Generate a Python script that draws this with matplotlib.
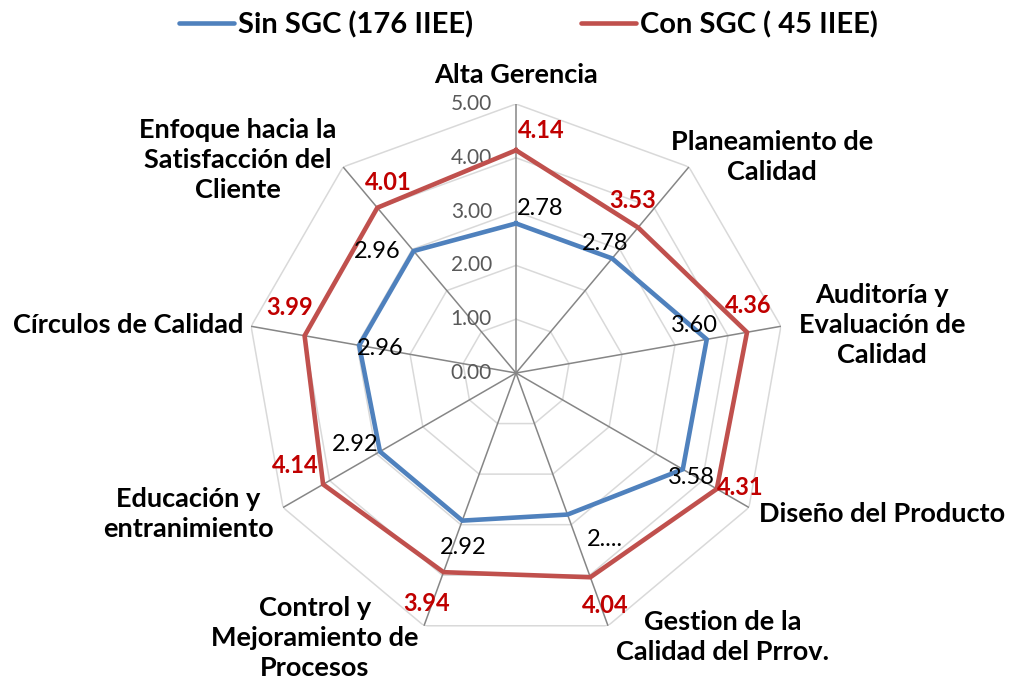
import numpy as np
import matplotlib
matplotlib.use('Agg')
import matplotlib.pyplot as plt

plt.rcParams['font.family'] = ['Lato', 'DejaVu Sans']

categories = ['Alta Gerencia', 'Planeamiento de\nCalidad', 'Auditoría y\nEvaluación de\nCalidad',
              'Diseño del Producto', 'Gestion de la\nCalidad del Prrov.', 'Control y\nMejoramiento de\nProcesos',
              'Educación y\nentranimiento', 'Círculos de Calidad',
              'Enfoque hacia la\nSatisfacción del\nCliente']
sin_sgc = [2.78, 2.78, 3.60, 3.58, 2.80, 2.92, 2.92, 2.96, 2.96]
con_sgc = [4.14, 3.53, 4.36, 4.31, 4.04, 3.94, 4.14, 3.99, 4.01]
sin_labels = ['2.78', '2.78', '3.60', '3.58', '2....', '2.92', '2.92', '2.96', '2.96']
con_labels = ['4.14', '3.53', '4.36', '4.31', '4.04', '3.94', '4.14', '3.99', '4.01']
levels = [0, 1, 2, 3, 4, 5]

blue = '#4F81BD'
red = '#C0504D'

n = len(categories)
angles = np.linspace(0, 2 * np.pi, n, endpoint=False)
closed = np.append(angles, angles[0])

fig = plt.figure(figsize=(10.1, 6.86), dpi=100)
# center at (516, 373) px, radius 269 px
cx, cy, R = 516 / 1010, 1 - 373 / 686, 269
ax = fig.add_axes([cx - R / 1010, cy - R / 686, 2 * R / 1010, 2 * R / 686], projection='polar')
ax.set_theta_zero_location('N')
ax.set_theta_direction(-1)
ax.set_ylim(0, 5)
ax.grid(False)
ax.spines['polar'].set_visible(False)
ax.set_xticks([])
ax.set_yticks([])
ax.patch.set_alpha(0)

# polygon rings and spokes
for lv in levels[1:]:
    ax.plot(closed, [lv] * (n + 1), color='#D9D9D9', lw=1.1, zorder=1)
for a in angles:
    ax.plot([a, a], [0, 5], color='#868686', lw=1.1, zorder=1)

for lv in levels:
    ax.annotate(f'{lv:.2f}', xy=(0, lv), xytext=(-24, 0), textcoords='offset pixels',
                ha='right', va='center', fontsize=15, color='#595959')

ax.plot(closed, sin_sgc + sin_sgc[:1], color=blue, lw=3.3, zorder=3, solid_joinstyle='miter')
ax.plot(closed, con_sgc + con_sgc[:1], color=red, lw=3.3, zorder=3, solid_joinstyle='miter')

# data label offsets in pixels
sin_off = [(24, 15), (-7, 15), (-12, 14), (9, -8), (37, -25), (1, -27), (-25, 7), (21, -3), (-36, 0)]
con_off = [(25, 20), (-5, 27), (1, 27), (23, 1), (15, -28), (-17, -31), (-28, 19), (-15, 28), (11, 25)]
for a, v, t, o in zip(angles, sin_sgc, sin_labels, sin_off):
    ax.annotate(t, xy=(a, v), xytext=o, textcoords='offset pixels', ha='center', va='center',
                fontsize=17, color='black', zorder=4)
for a, v, t, o in zip(angles, con_sgc, con_labels, con_off):
    ax.annotate(t, xy=(a, v), xytext=o, textcoords='offset pixels', ha='center', va='center',
                fontsize=17, color='#C00000', fontweight='bold', zorder=4)

# category label centers in pixels
label_px = [(516, 75), (772, 157), (882, 325), (882, 514), (723, 637),
            (315, 638), (188, 514), (128, 325), (238, 160)]
for t, (x, y) in zip(categories, label_px):
    fig.text(x / 1010, 1 - y / 686, t, ha='center', va='center', multialignment='center',
             fontsize=19.5, fontweight='bold', linespacing=1.3)

h1, = ax.plot([], [], color=blue, lw=3.3, solid_capstyle='round')
h2, = ax.plot([], [], color=red, lw=3.3, solid_capstyle='round')
leg = fig.legend([h1, h2], ['Sin SGC (176 IIEE)', 'Con SGC ( 45 IIEE)'], loc='center',
                 bbox_to_anchor=(0.523, 1 - 25 / 686), ncol=2, frameon=False,
                 prop={'size': 21, 'weight': 'bold'}, handlelength=1.9, handletextpad=0.12,
                 columnspacing=3.7)

fig.savefig('out.png', dpi=100)
